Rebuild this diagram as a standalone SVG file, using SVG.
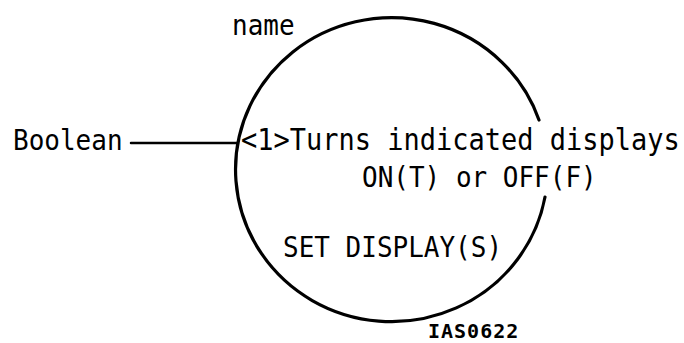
<svg xmlns="http://www.w3.org/2000/svg" width="684" height="343" viewBox="0 0 684 343">
  <style>
    .t { font-family: "DejaVu Sans Mono", "Liberation Mono", monospace; font-size: 26px; fill: #000; }
    .id { font-family: "DejaVu Sans Mono", "Liberation Mono", monospace; font-size: 20px; font-weight: bold; letter-spacing: 1px; fill: #000; }
    .stroke { fill: none; stroke: #000; stroke-linecap: round; }
  </style>
  <rect width="684" height="343" fill="#fff"/>
  <g id="process">
    <path class="stroke" stroke-width="3.2" d="M 545 197 A 156 152 0 1 1 539 120"/>
    <text class="t" transform="translate(232,35) scale(1,1.12)">name</text>
    <text class="t" transform="translate(241,150) scale(1,1.12)" style="font-size:27px">&lt;1&gt;Turns indicated displays</text>
    <text class="t" transform="translate(362,187) scale(1,1.12)">ON(T) or OFF(F)</text>
    <text class="t" transform="translate(283,257) scale(1,1.12)">SET DISPLAY(S)</text>
  </g>
  <g id="input-boolean">
    <text class="t" transform="translate(13,150) scale(1,1.12)">Boolean</text>
  </g>
  <g id="connectors">
    <line class="stroke" stroke-width="2.5" x1="131" y1="143" x2="237" y2="143"/>
  </g>
  <g id="figure-id">
    <text class="id" x="428" y="338">IAS0622</text>
  </g>
</svg>
